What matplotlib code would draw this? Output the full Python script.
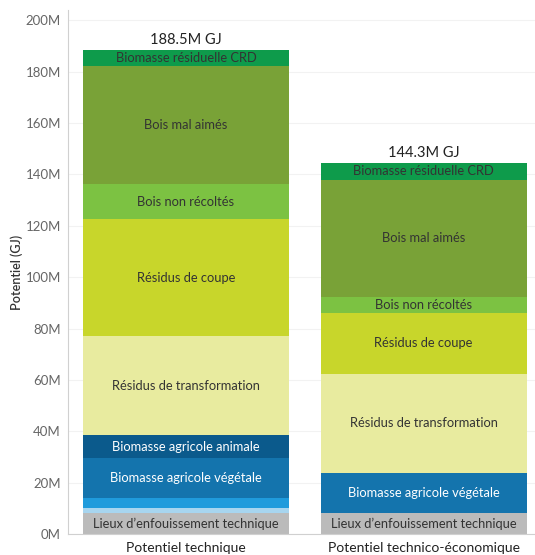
import matplotlib.pyplot as plt

plt.rcParams['font.family'] = ['Lato', 'DejaVu Sans']

# catégories (axe x)
categories = ['Potentiel technique', 'Potentiel technico-économique']
totals = ['188.5M GJ', '144.3M GJ']

# segments empilés, du bas vers le haut (en millions de GJ)
segments = [
    'Lieux d\u2019enfouissement technique',
    'Biomasse agricole (autre 1)',
    'Biomasse agricole (autre 2)',
    'Biomasse agricole végétale',
    'Biomasse agricole animale',
    'Résidus de transformation',
    'Résidus de coupe',
    'Bois non récoltés',
    'Bois mal aimés',
    'Biomasse résiduelle CRD',
]
technique = [8.3, 1.7, 3.9, 15.6, 9.1, 38.3, 45.8, 13.4, 46.1, 6.3]
technico_eco = [8.1, 0.0, 0.0, 15.8, 0.0, 38.5, 23.6, 6.1, 45.9, 6.3]

# segments dont le libellé est affiché
shown = [True, False, False, True, True, True, True, True, True, True]

colors = ['#bbbbbb', '#a7d5ef', '#1f9bdc', '#1474ad', '#0b5a8c',
          '#e8eb9f', '#c8d62b', '#7cc242', '#79a237', '#0e9b4b']
text_colors = ['#333333', '#333333', '#ffffff', '#ffffff', '#ffffff',
               '#333333', '#333333', '#333333', '#333333', '#333333']

fig = plt.figure(figsize=(5.35, 5.55), dpi=100)
ax = fig.add_axes([68 / 535, 21 / 555, 467 / 535, 524 / 555])

data = [technique, technico_eco]
width = 0.867
for i, values in enumerate(data):
    bottom = 0
    for j, v in enumerate(values):
        if v > 0:
            ax.bar(i, v, width=width, bottom=bottom, color=colors[j], linewidth=0)
            if shown[j]:
                ax.text(i, bottom + v / 2, segments[j], ha='center', va='center',
                        fontsize=9.3, color=text_colors[j])
        bottom += v
    ax.text(i, bottom + 1.2, totals[i], ha='center', va='bottom', fontsize=10.5,
            color='#222222')

ax.set_xlim(-0.497, 1.469)
ax.set_ylim(0, 204)
ax.set_yticks(range(0, 201, 20))
ax.set_yticklabels([f'{t}M' for t in range(0, 201, 20)])
ax.tick_params(axis='y', length=0, labelsize=9.5, colors='#666666', pad=5)
ax.set_ylabel('Potentiel (GJ)', fontsize=9, color='#333333', fontweight='semibold')
ax.yaxis.set_label_coords(-0.097, 0.5)
ax.yaxis.grid(True, color='#f2f2f2', linewidth=0.8)
ax.set_axisbelow(True)

ax.set_xticks([0, 1])
ax.set_xticklabels(categories)
ax.tick_params(axis='x', length=0, labelsize=10, colors='#222222', pad=6)

for s in ['top', 'right']:
    ax.spines[s].set_visible(False)
ax.spines['left'].set_color('#d0d0d0')
ax.spines['bottom'].set_color('#d0d0d0')

plt.savefig('out.png', dpi=100)
